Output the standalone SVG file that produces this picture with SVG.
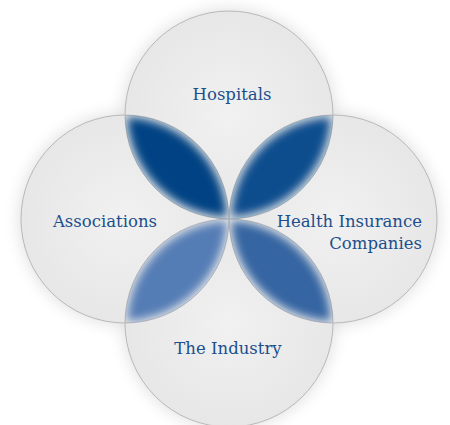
<svg xmlns="http://www.w3.org/2000/svg" width="450" height="425" viewBox="0 0 450 425">
<defs>
<style>
.lbl{font-family:"DejaVu Serif","Liberation Serif",serif;font-size:16.5px;fill:#1b4f8c}
</style>
<radialGradient id="cfill" cx="0.5" cy="0.5" r="0.6">
<stop offset="0" stop-color="#f1f1f1"/>
<stop offset="1" stop-color="#e5e5e5"/>
</radialGradient>
<filter id="shadow" x="-20%" y="-20%" width="140%" height="140%">
<feGaussianBlur stdDeviation="9"/>
</filter>
<filter id="soft" x="-10%" y="-10%" width="120%" height="120%">
<feMorphology operator="erode" radius="2"/>
<feGaussianBlur stdDeviation="5"/>
</filter>
<path id="lTL" d="M125,115 A104,104 0 0 0 229,219 A104,104 0 0 0 125,115 Z"/>
<path id="lTR" d="M229,219 A104,104 0 0 0 333,115 A104,104 0 0 0 229,219 Z"/>
<path id="lBL" d="M229,219 A104,104 0 0 1 125,323 A104,104 0 0 1 229,219 Z"/>
<path id="lBR" d="M229,219 A104,104 0 0 1 333,323 A104,104 0 0 1 229,219 Z"/>
<clipPath id="cTL"><use href="#lTL"/></clipPath>
<clipPath id="cTR"><use href="#lTR"/></clipPath>
<clipPath id="cBL"><use href="#lBL"/></clipPath>
<clipPath id="cBR"><use href="#lBR"/></clipPath>
</defs>
<rect width="450" height="425" fill="#ffffff"/>
<g id="shadow-layer" filter="url(#shadow)" fill="#000" opacity="0.15">
<circle cx="229" cy="115" r="104"/>
<circle cx="125" cy="219" r="104"/>
<circle cx="333" cy="219" r="104"/>
<circle cx="229" cy="323" r="104"/>
</g>
<g id="circle-fills" fill="url(#cfill)">
<circle cx="229" cy="115" r="104"/>
<circle cx="125" cy="219" r="104"/>
<circle cx="333" cy="219" r="104"/>
<circle cx="229" cy="323" r="104"/>
</g>
<g id="node-hospitals">
<circle cx="229" cy="115" r="104" fill="none" stroke="#b9b9b9"/>
<text class="lbl" x="232" y="100" text-anchor="middle">Hospitals</text>
</g>
<g id="node-associations">
<circle cx="125" cy="219" r="104" fill="none" stroke="#b9b9b9"/>
<text class="lbl" x="105" y="227" text-anchor="middle">Associations</text>
</g>
<g id="node-insurance">
<circle cx="333" cy="219" r="104" fill="none" stroke="#b9b9b9"/>
<text class="lbl" x="422" y="227" text-anchor="end">Health Insurance</text>
<text class="lbl" x="422" y="249" text-anchor="end">Companies</text>
</g>
<g id="node-industry">
<circle cx="229" cy="323" r="104" fill="none" stroke="#b9b9b9"/>
<text class="lbl" x="228" y="354" text-anchor="middle">The Industry</text>
</g>
<g id="connectors">
<use href="#lTL" fill="#004383" filter="url(#soft)" clip-path="url(#cTL)"/>
<use href="#lTR" fill="#0d4e8e" filter="url(#soft)" clip-path="url(#cTR)"/>
<use href="#lBL" fill="#557db5" filter="url(#soft)" clip-path="url(#cBL)"/>
<use href="#lBR" fill="#3565a2" filter="url(#soft)" clip-path="url(#cBR)"/>
</g>
</svg>
